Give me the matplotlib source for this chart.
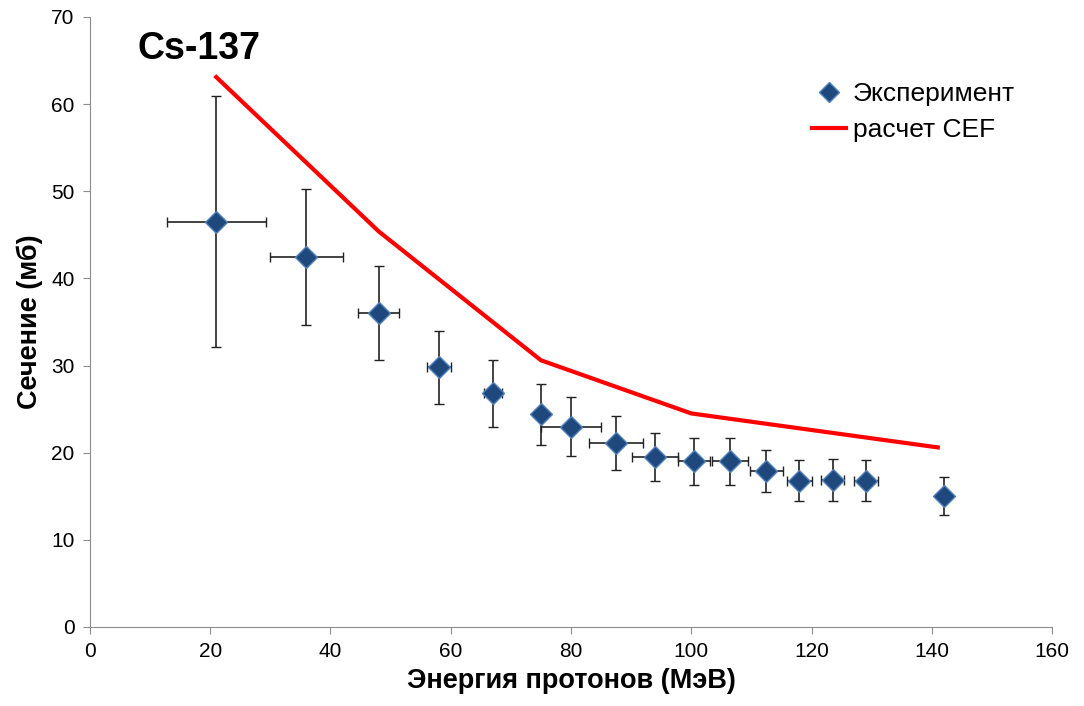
import matplotlib.pyplot as plt
from matplotlib.lines import Line2D

plt.rcParams['font.family'] = ['Liberation Sans', 'DejaVu Sans']

# experimental points
energy = [21, 36, 48, 58, 67, 75, 80, 87.5, 94, 100.5, 106.5, 112.5, 118, 123.5, 129, 142]
xs = [46.5, 42.5, 36.0, 29.8, 26.8, 24.4, 23.0, 21.1, 19.5, 19.0, 19.0, 17.9, 16.8, 16.9, 16.8, 15.0]
xs_err = [14.4, 7.8, 5.4, 4.2, 3.8, 3.5, 3.4, 3.1, 2.8, 2.7, 2.7, 2.4, 2.4, 2.4, 2.4, 2.2]
energy_err = [8.2, 6.0, 3.4, 2.0, 1.5, 1.0, 5.0, 4.5, 3.8, 2.7, 3.0, 2.7, 2.0, 1.9, 2.0, 0.3]

# CEF calculation
cef_energy = [21, 48, 75, 100, 141]
cef_xs = [63.1, 45.4, 30.6, 24.5, 20.6]

fig = plt.figure(figsize=(10.84, 7.06), dpi=100)
ax = fig.add_axes([0.083, 0.112, 0.8875, 0.864])

ax.plot(cef_energy, cef_xs, color='#ff0000', lw=3, zorder=2)
ax.errorbar(energy, xs, yerr=xs_err, xerr=energy_err, fmt='D', ms=11,
            mfc='#1f497d', mec='#4f81bd', mew=1, ecolor='#222222',
            elinewidth=1.2, capsize=3.5, capthick=1.2, zorder=3)

ax.set_xlim(0, 160)
ax.set_ylim(0, 70)
ax.set_xticks(range(0, 161, 20))
ax.set_yticks(range(0, 71, 10))
for s in ['top', 'right']:
    ax.spines[s].set_visible(False)
for s in ['left', 'bottom']:
    ax.spines[s].set_color('#8c8c8c')
ax.tick_params(direction='out', length=5, color='#8c8c8c', labelsize=15, pad=6)

ax.set_xlabel('Энергия протонов (МэВ)', fontsize=19.5, fontweight='bold', labelpad=5)
ax.set_ylabel('Сечение (мб)', fontsize=19.5, fontweight='bold', labelpad=6)

fig.text(0.127, 0.930, 'Cs-137', fontsize=27, fontweight='bold', va='center')

handles = [Line2D([], [], ls='none', marker='D', ms=10, mfc='#1f497d', mec='#4f81bd'),
           Line2D([], [], color='#ff0000', lw=3)]
fig.legend(handles, ['Эксперимент', 'расчет CEF'], loc='upper left',
           bbox_to_anchor=(0.727, 0.917), frameon=False, fontsize=19,
           handlelength=1.3, handletextpad=0.25, labelspacing=0.45)

fig.savefig('out.png', dpi=100)
